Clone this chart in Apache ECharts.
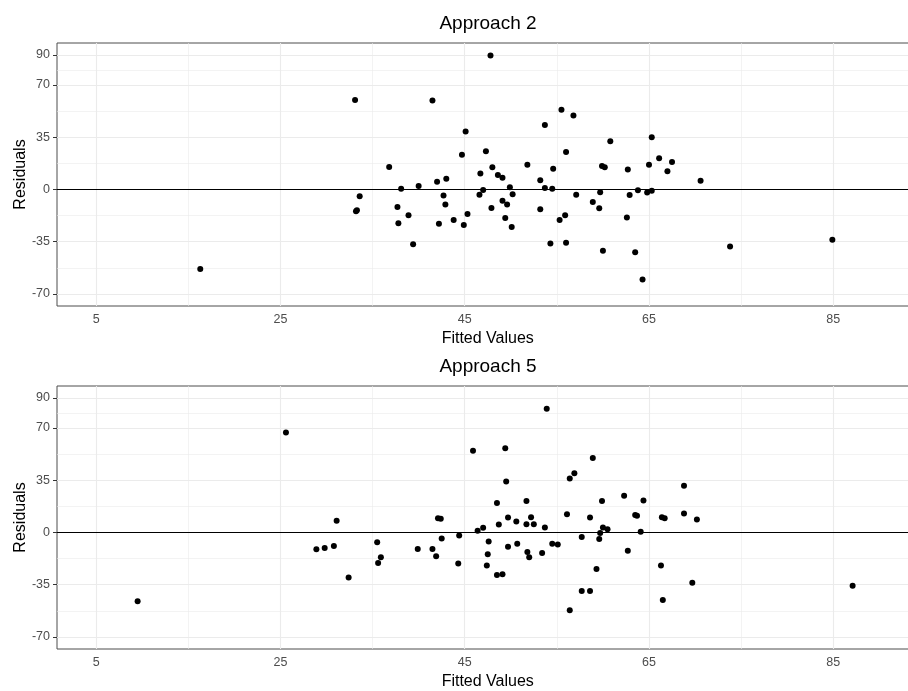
<!DOCTYPE html>
<html>
<head>
<meta charset="utf-8">
<script src="https://cdn.jsdelivr.net/npm/echarts@6/dist/echarts.min.js"></script>
<style>
  html, body { margin: 0; padding: 0; background: #ffffff; }
  #chart { width: 908px; height: 691px; }
</style>
</head>
<body>
<div id="chart"></div>
<script>
// ---- data ----
const panelTitles = ['Approach 2', 'Approach 5'];
const xTickValues = [5, 25, 45, 65, 85];
const yTickValues = [-70, -35, 0, 35, 70, 90];
const xMinorValues = [15, 35, 55, 75];
const yMinorValues = [-52.5, -17.5, 17.5, 52.5, 80];

const fitted2 = [16.3, 33.1, 41.5, 47.8, 33.6, 33.2, 33.3, 36.8, 38.1, 37.7, 37.8, 38.9, 39.4, 40.0,
  42.0, 43.0, 42.7, 42.9, 42.2, 43.8, 44.7, 45.1, 45.3, 44.9, 46.7, 47.3, 46.6, 47.0, 48.0, 48.6,
  49.1, 49.9, 50.2, 49.1, 49.6, 47.9, 49.4, 50.1, 51.8, 53.2, 53.7, 54.5, 54.6, 53.7, 55.5, 56.8,
  56.0, 57.1, 53.2, 55.3, 55.9, 54.3, 56.0, 58.9, 59.7, 59.6, 60.0, 59.9, 60.2, 60.8, 62.7, 62.9,
  62.6, 63.8, 63.5, 64.3, 64.8, 65.3, 65.0, 65.3, 66.1, 67.5, 67.0, 70.6, 73.8, 84.9];
const resid2 = [-53.2, 59.9, 59.6, 89.6, -4.6, -14.6, -14.0, 15.0, 0.5, -11.7, -22.7, -17.3, -36.7, 2.3,
  5.2, 7.2, -4.1, -10.0, -22.9, -20.4, 23.3, 38.7, -16.4, -23.8, 10.6, 25.5, -3.5, -0.3, 14.8, 9.7,
  7.9, 1.4, -3.3, -7.5, -10.0, -12.4, -19.1, -25.1, 16.6, 6.1, 1.0, 0.5, 13.9, 43.2, 53.4, 49.4,
  25.1, -3.5, -13.3, -20.4, -17.3, -36.1, -35.6, -8.4, -1.9, -12.6, -41.0, 15.7, 14.8, 32.2, 13.3, -3.7,
  -18.7, -0.6, -42.1, -60.2, -2.1, -0.8, 16.6, 34.9, 20.8, 18.4, 12.1, 5.9, -38.1, -33.6];

const fitted5 = [9.5, 25.6, 28.9, 29.8, 30.8, 31.1, 32.4, 35.5, 35.9, 35.6, 39.9, 41.5, 41.9, 42.1,
  42.4, 42.5, 44.3, 44.4, 45.9, 46.4, 47.0, 47.6, 47.5, 47.4, 48.5, 48.7, 48.5, 49.1, 49.4, 49.5,
  49.7, 49.7, 50.6, 50.7, 51.7, 51.7, 52.2, 52.5, 51.8, 52.0, 53.4, 53.7, 53.9, 54.5, 55.1, 56.1,
  56.4, 56.9, 56.4, 57.7, 57.7, 58.6, 58.6, 58.9, 59.3, 59.6, 59.7, 60.0, 60.5, 59.9, 62.3, 62.7,
  63.5, 63.7, 64.1, 64.4, 66.3, 66.4, 66.7, 66.5, 68.8, 68.8, 69.7, 70.2, 87.1];
const resid5 = [-46.0, 66.9, -11.3, -10.4, -9.1, 7.8, -30.1, -6.6, -16.6, -20.4, -11.1, -11.1, -15.9, 9.5,
  9.1, -4.0, -20.8, -2.0, 54.6, 1.1, 3.1, -6.0, -14.6, -22.1, 19.7, 5.3, -28.4, -27.9, 56.4, 34.1,
  10.0, -9.5, 7.3, -7.5, 21.0, 5.5, 10.2, 5.5, -13.1, -16.6, -13.7, 3.3, 82.8, -7.5, -8.0, 12.2,
  36.1, 39.6, -52.0, -3.1, -39.2, -39.2, 10.0, 49.8, -24.4, -4.4, -0.4, 3.3, 2.2, 21.0, 24.6, -12.2,
  11.7, 11.1, 0.4, 21.4, -22.1, 10.2, 9.5, -45.2, 31.2, 12.6, -33.7, 8.6, -35.7];

// ---- chart ----
const FONT = '"Liberation Sans", Arial, "DejaVu Sans", sans-serif';
const X_MIN = 0.75, X_MAX = 94.25, Y_MIN = -78, Y_MAX = 98;
const gridTops = [43, 386];
const PANEL_H = 263;

function pairs(xs, ys) { return xs.map((x, i) => [x, ys[i]]); }

const grids = gridTops.map(t => ({
  left: 57, right: -10.5, top: t, height: PANEL_H,
  containLabel: false, outerBoundsMode: 'none',
  show: true, borderColor: '#4d4d4d', borderWidth: 1, backgroundColor: 'transparent'
}));

const xAxes = [0, 1].map(i => ({
  type: 'value', gridIndex: i, min: X_MIN, max: X_MAX,
  name: 'Fitted Values', nameLocation: 'middle', nameGap: 25, nameMoveOverlap: false,
  nameTextStyle: { fontFamily: FONT, fontSize: 16, color: '#000' },
  axisLine: { show: false },
  axisTick: { show: true, length: 4, lineStyle: { color: '#333' }, customValues: xTickValues },
  axisLabel: { fontFamily: FONT, fontSize: 12.5, color: '#4d4d4d', margin: 7, customValues: xTickValues },
  splitLine: { show: false }
}));

const yAxes = [0, 1].map(i => ({
  type: 'value', gridIndex: i, min: Y_MIN, max: Y_MAX,
  name: 'Residuals', nameLocation: 'middle', nameGap: 28, nameRotate: 90, nameMoveOverlap: false,
  nameTextStyle: { fontFamily: FONT, fontSize: 16, color: '#000' },
  axisLine: { show: false },
  axisTick: { show: true, length: 4, lineStyle: { color: '#333' }, customValues: yTickValues },
  axisLabel: { fontFamily: FONT, fontSize: 12.5, color: '#4d4d4d', margin: 7, customValues: yTickValues },
  splitLine: { show: false }
}));

const series = [];
const panels = [pairs(fitted2, resid2), pairs(fitted5, resid5)];
[0, 1].forEach(i => {
  const gridData = [];
  xMinorValues.forEach(v => gridData.push({ xAxis: v, lineStyle: { width: 0.6 } }));
  yMinorValues.forEach(v => gridData.push({ yAxis: v, lineStyle: { width: 0.6 } }));
  xTickValues.forEach(v => gridData.push({ xAxis: v, lineStyle: { width: 1.1 } }));
  yTickValues.forEach(v => gridData.push({ yAxis: v, lineStyle: { width: 1.1 } }));
  series.push({
    type: 'scatter', xAxisIndex: i, yAxisIndex: i, data: [], z: 1, silent: true,
    markLine: {
      z: 1, silent: true, symbol: ['none', 'none'], label: { show: false }, animation: false,
      lineStyle: { color: '#ebebeb', type: 'solid' },
      emphasis: { disabled: true },
      data: gridData
    }
  });
  series.push({
    type: 'scatter', xAxisIndex: i, yAxisIndex: i, z: 3,
    data: panels[i], symbol: 'circle', symbolSize: 6,
    itemStyle: { color: '#000', opacity: 1 },
    markLine: {
      z: 2, silent: true, symbol: ['none', 'none'], label: { show: false }, animation: false,
      lineStyle: { color: '#000', width: 1.1, type: 'solid' },
      data: [{ yAxis: 0 }]
    }
  });
});

const chart = echarts.init(document.getElementById('chart'), null, { renderer: 'canvas' });
chart.setOption({
  animation: false,
  backgroundColor: '#ffffff',
  title: panelTitles.map((t, i) => ({
    text: t, left: 488, top: gridTops[i] - 29, textAlign: 'center', padding: 0,
    textStyle: { fontFamily: FONT, fontSize: 19, fontWeight: 'normal', color: '#000' }
  })),
  grid: grids,
  xAxis: xAxes,
  yAxis: yAxes,
  series: series
});
</script>
</body>
</html>
